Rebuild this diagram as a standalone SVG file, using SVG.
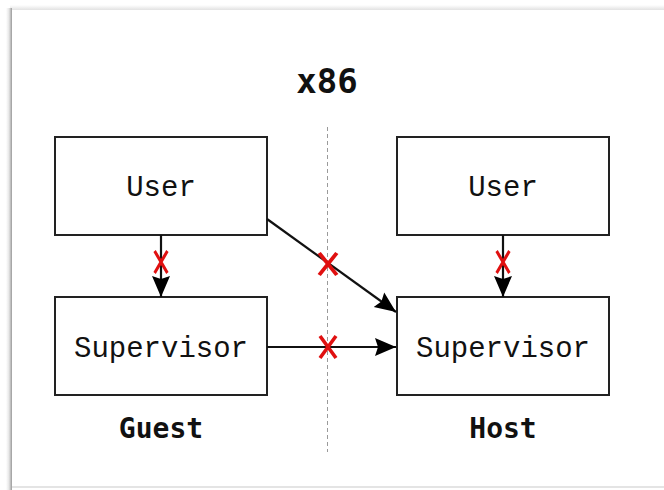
<svg xmlns="http://www.w3.org/2000/svg" width="664" height="490" viewBox="0 0 664 490">
  <defs>
    <linearGradient id="edgeLeft" x1="0" y1="0" x2="1" y2="0">
      <stop offset="0" stop-color="#ffffff"/>
      <stop offset="0.5" stop-color="#e6e6e6"/>
      <stop offset="1" stop-color="#9a9a9a"/>
    </linearGradient>
    <linearGradient id="edgeTop" x1="0" y1="0" x2="0" y2="1">
      <stop offset="0" stop-color="#ffffff"/>
      <stop offset="1" stop-color="#e2e2e2"/>
    </linearGradient>
    <marker id="arrow" viewBox="0 0 21 20" refX="21" refY="10" markerWidth="21" markerHeight="20" markerUnits="userSpaceOnUse" orient="auto">
      <path d="M0,1 L21,10 L0,19 L3,10 Z" fill="#000"/>
    </marker>
    <g id="cross">
      <path d="M-8,-11 L8,11 M8,-11 L-8,11" stroke="#e01010" stroke-width="3.6" fill="none" stroke-linecap="butt"/>
    </g>
  </defs>
  <style>
    .box { fill: #fff; stroke: #222; stroke-width: 2; }
    .label { font-family: "Liberation Mono", "DejaVu Sans Mono", monospace; font-size: 29px; fill: #111; text-anchor: middle; }
    .heading { font-family: "DejaVu Sans Mono", monospace; font-weight: bold; fill: #111; text-anchor: middle; }
    .link { stroke: #111; stroke-width: 2.2; fill: none; marker-end: url(#arrow); }
  </style>

  <!-- page sheet with its soft edges -->
  <rect x="0" y="0" width="664" height="490" fill="#fff"/>
  <rect x="10" y="5" width="654" height="5" fill="url(#edgeTop)"/>
  <rect x="6" y="8" width="6" height="482" fill="url(#edgeLeft)"/>
  <rect x="12" y="486" width="652" height="2" fill="#e4e4e4"/>

  <!-- divider between guest and host -->
  <line x1="327.5" y1="127" x2="327.5" y2="452" stroke="#9a9a9a" stroke-width="1" stroke-dasharray="4 3"/>

  <text class="heading" x="327" y="93" font-size="34">x86</text>

  <g id="guest-user">
    <rect class="box" x="55" y="137" width="212" height="98"/>
    <text class="label" x="161" y="196">User</text>
  </g>
  <g id="guest-supervisor">
    <rect class="box" x="55" y="297" width="212" height="98"/>
    <text class="label" x="161" y="357">Supervisor</text>
  </g>
  <g id="host-user">
    <rect class="box" x="397" y="137" width="212" height="98"/>
    <text class="label" x="503" y="196">User</text>
  </g>
  <g id="host-supervisor">
    <rect class="box" x="397" y="297" width="212" height="98"/>
    <text class="label" x="503" y="357">Supervisor</text>
  </g>

  <text class="heading" x="161" y="438" font-size="28">Guest</text>
  <text class="heading" x="503" y="438" font-size="28">Host</text>

  <g id="connectors">
    <line class="link" x1="161" y1="235" x2="161" y2="297"/>
    <line class="link" x1="503" y1="235" x2="503" y2="297"/>
    <line class="link" x1="267" y1="219" x2="396" y2="312"/>
    <line class="link" x1="267" y1="347" x2="396" y2="347"/>
    <!-- blocked transitions -->
    <use href="#cross" transform="translate(161,262) scale(0.8,1)"/>
    <use href="#cross" transform="translate(503,262) scale(0.8,1)"/>
    <use href="#cross" transform="translate(328,264) scale(1.1,1)"/>
    <use href="#cross" transform="translate(328,347)"/>
  </g>
</svg>
